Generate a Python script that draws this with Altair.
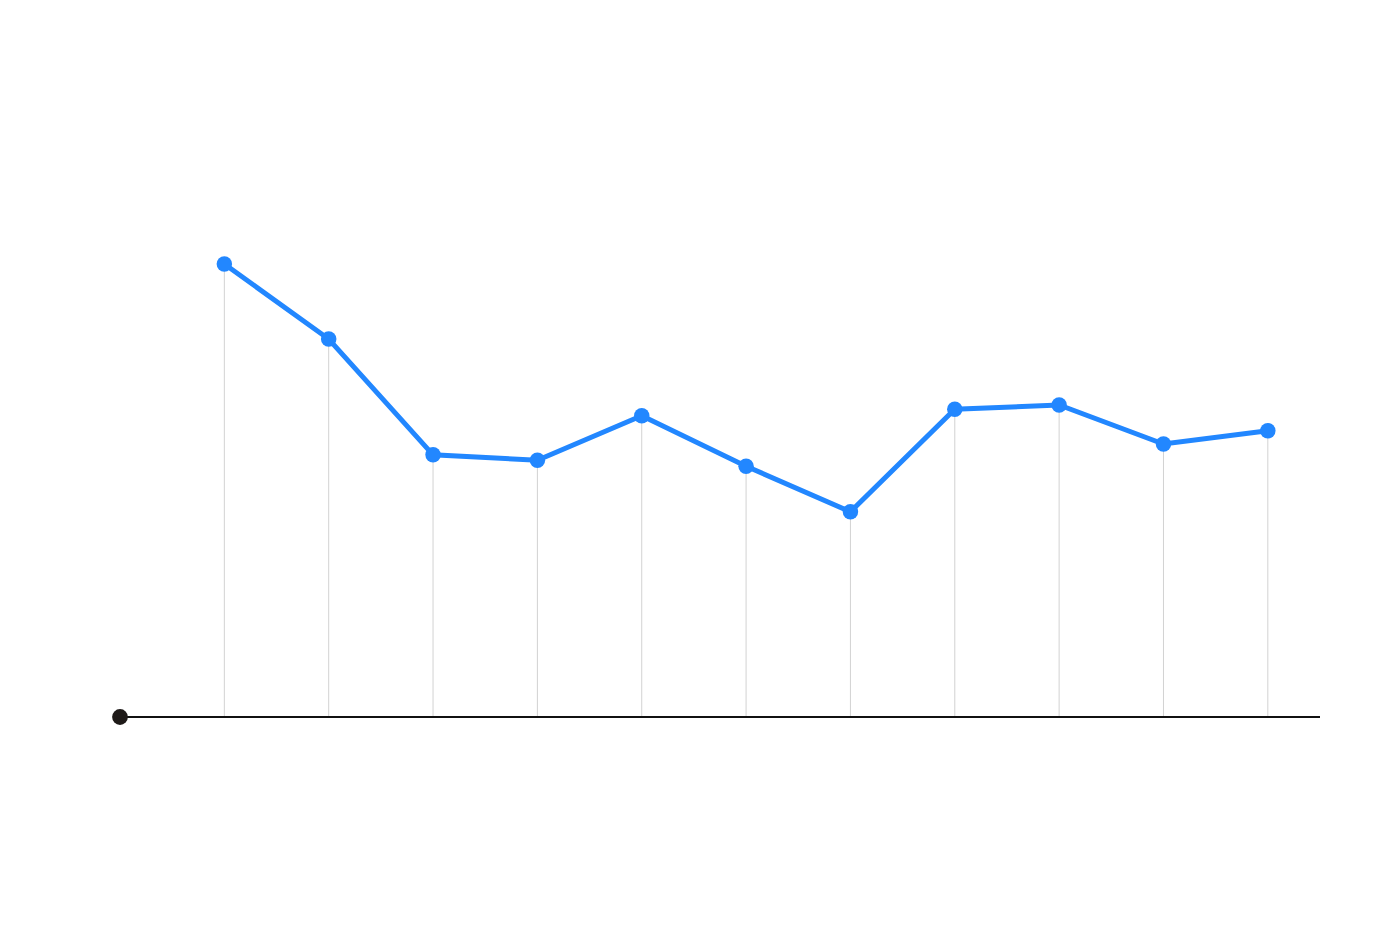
import altair as alt
import pandas as pd

# data
x_index = [1, 2, 3, 4, 5, 6, 7, 8, 9, 10, 11]
values = [75.5, 63.0, 43.7, 42.8, 50.2, 41.8, 34.2, 51.3, 52.0, 45.5, 47.7]
origin_x = [0]
origin_y = [0]
x_domain = [0, 11.5]
y_domain = [0, 100]

df = pd.DataFrame({"x": x_index, "v": values})
origin = pd.DataFrame({"x": origin_x, "v": origin_y})
base_df = pd.DataFrame({"x": [x_domain[0]], "x2": [x_domain[1]], "v": [0]})

xs = alt.Scale(domain=x_domain, nice=False, zero=False)
ys = alt.Scale(domain=y_domain, nice=False)

drops = alt.Chart(df).mark_rule(color="#d2d2d2", strokeWidth=1).encode(
    x=alt.X("x:Q", scale=xs, axis=None),
    y=alt.Y("v:Q", scale=ys, axis=None),
    y2=alt.datum(0),
)

baseline = alt.Chart(base_df).mark_rule(color="#111111", strokeWidth=2).encode(
    x=alt.X("x:Q", scale=xs, axis=None),
    x2="x2:Q",
    y=alt.Y("v:Q", scale=ys, axis=None),
)

line = alt.Chart(df).mark_line(color="#2287ff", strokeWidth=5).encode(
    x=alt.X("x:Q", scale=xs, axis=None),
    y=alt.Y("v:Q", scale=ys, axis=None),
)

points = alt.Chart(df).mark_circle(color="#2287ff", opacity=1, size=240).encode(
    x=alt.X("x:Q", scale=xs, axis=None),
    y=alt.Y("v:Q", scale=ys, axis=None),
)

dot = alt.Chart(origin).mark_circle(color="#1e1a18", opacity=1, size=250).encode(
    x=alt.X("x:Q", scale=xs, axis=None),
    y=alt.Y("v:Q", scale=ys, axis=None),
)

chart = alt.layer(drops, baseline, line, points, dot).properties(
    width=1200,
    height=600,
    autosize=alt.AutoSizeParams(type="none"),
    padding={"left": 112, "top": 109, "right": 72, "bottom": 207},
    background="white",
).configure_view(strokeWidth=0, stroke="transparent")

chart.save("out.html", embed_options={"renderer": "svg", "actions": False})
